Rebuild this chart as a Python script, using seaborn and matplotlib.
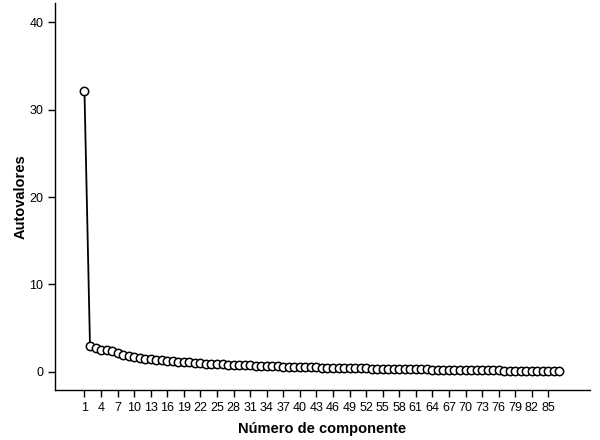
import numpy as np
import pandas as pd
import matplotlib
matplotlib.use("Agg")
import matplotlib.pyplot as plt
import seaborn as sns

# eigenvalues (87 components)
autovalores = [32.1, 3.0, 2.75, 2.55, 2.45, 2.35, 2.15, 1.95, 1.82, 1.70,
               1.60, 1.52, 1.45, 1.38, 1.32, 1.26, 1.21, 1.16, 1.11, 1.07,
               1.03, 0.99, 0.95, 0.92, 0.89, 0.86, 0.83, 0.80, 0.78, 0.75,
               0.73, 0.71, 0.69, 0.67, 0.65, 0.63, 0.61, 0.59, 0.57, 0.55,
               0.54, 0.52, 0.51, 0.49, 0.48, 0.46, 0.45, 0.44, 0.42, 0.41,
               0.40, 0.39, 0.38, 0.36, 0.35, 0.34, 0.33, 0.32, 0.31, 0.30,
               0.29, 0.28, 0.27, 0.26, 0.25, 0.24, 0.23, 0.22, 0.21, 0.21,
               0.20, 0.19, 0.18, 0.17, 0.16, 0.16, 0.15, 0.14, 0.13, 0.12,
               0.12, 0.11, 0.10, 0.09, 0.08, 0.07, 0.06]
componentes = list(range(1, len(autovalores) + 1))
x_ticks = list(range(1, 86, 3))
y_ticks = [0, 10, 20, 30, 40]

df = pd.DataFrame({'Componente': componentes, 'Autovalor': autovalores})

sns.set_style('ticks')
plt.rcParams['font.family'] = ['Liberation Sans', 'DejaVu Sans']

fig = plt.figure(figsize=(6, 4.4), dpi=100)
ax = fig.add_axes([0.092, 0.114, 0.891, 0.879])

sns.lineplot(data=df, x='Componente', y='Autovalor', ax=ax,
             color='black', linewidth=1.3, marker='o', markersize=6,
             markerfacecolor='white', markeredgecolor='black',
             markeredgewidth=1.1)

ax.set_xlim(-4.3, 92.5)
ax.set_ylim(-2.06, 42.2)
ax.set_xticks(x_ticks)
ax.set_yticks(y_ticks)
ax.tick_params(axis='both', labelsize=9, length=5, width=1,
               colors='black', labelcolor='black')
ax.set_xlabel('Número de componente', fontsize=10.5, fontweight='bold',
              labelpad=6, color='black')
ax.set_ylabel('Autovalores', fontsize=10.5, fontweight='bold',
              labelpad=1, color='black')
sns.despine(ax=ax)
for s in ['left', 'bottom']:
    ax.spines[s].set_linewidth(1)
    ax.spines[s].set_color('black')

fig.savefig('out.png', dpi=100, facecolor='white')
